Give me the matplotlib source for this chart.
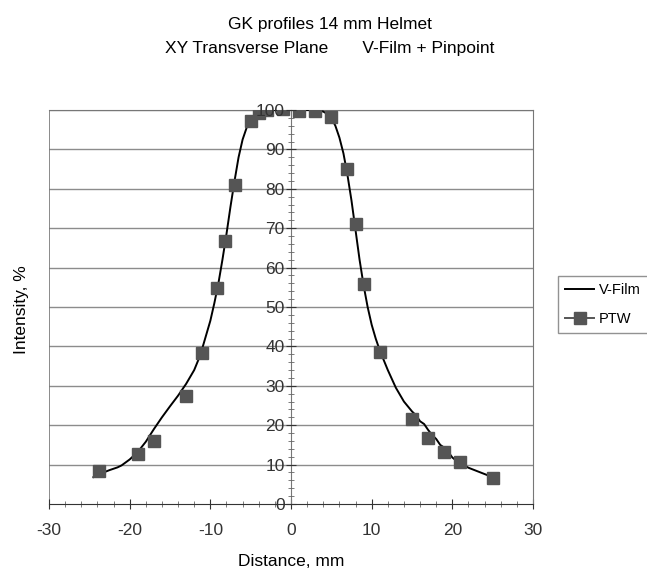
import numpy as np
import matplotlib
matplotlib.use("Agg")
import matplotlib.pyplot as plt
import matplotlib.ticker as mticker
from matplotlib.lines import Line2D

plt.rcParams['font.family'] = ['Liberation Sans Narrow', 'Liberation Sans', 'DejaVu Sans']
plt.rcParams['axes.unicode_minus'] = False

# V-Film profile
film_x = [-24.5, -23.5, -22.5, -21.5, -21, -20, -19, -18, -17, -16, -15, -14, -13, -12, -11.5, -11,
          -10.5, -10, -9.5, -9, -8.5, -8, -7.5, -7, -6.5, -6, -5.5, -5, -4.5, -4, -3, -2, -1, 0,
          1, 2, 3, 4, 4.5, 5, 5.5, 6, 6.5, 7, 7.5, 8, 8.5, 9, 9.5, 10, 10.5, 11, 12, 13, 14, 15,
          15.5, 16, 16.5, 17, 17.5, 18, 18.5, 19, 19.5, 20, 20.5, 21, 22, 23, 24, 25]
film_y = [6.8, 7.8, 8.6, 9.3, 9.8, 11.3, 13.2, 15.8, 19.0, 22.0, 24.8, 27.5, 30.5, 34.0, 36.5, 39.5,
          43.0, 46.5, 51.0, 56.0, 62.0, 68.5, 75.5, 82.0, 88.0, 92.5, 95.5, 97.3, 98.5, 99.2, 99.8, 100, 100, 100,
          100, 100, 100, 99.6, 99.0, 98.0, 96.0, 93.0, 89.0, 83.5, 77.0, 69.5, 62.0, 55.5, 50.0, 45.5, 42.0, 39.0,
          34.0, 29.5, 26.0, 23.5, 22.5, 21.0, 20.3, 18.8, 17.5, 16.5, 15.0, 14.3, 13.2, 11.8, 11.0, 10.3,
          9.2, 8.4, 7.6, 6.8]

# PTW pinpoint chamber
ptw_x = [-23.8, -19, -17, -13, -11, -9.2, -8.2, -7, -5, -4, -3, -1, 1, 3, 5, 7, 8, 9, 11, 15, 17, 19, 21, 25]
ptw_y = [8.5, 12.8, 16.0, 27.5, 38.3, 54.8, 66.7, 81.0, 97.3, 99.2, 100, 100.2, 99.7, 99.7, 98.3, 85.0,
         71.0, 55.8, 38.5, 21.5, 16.7, 13.1, 10.7, 6.6]

fig = plt.figure(figsize=(6.47, 5.71), dpi=100)
ax = fig.add_axes([49 / 647, 1 - 504 / 571, 484 / 647, 394 / 571])

ax.set_xlim(-30, 30)
ax.set_ylim(0, 100)

for v in range(10, 101, 10):
    ax.axhline(v, color='#8c8c8c', lw=1.0, zorder=1)

ax.plot(film_x, film_y, color='black', lw=1.4, zorder=3)
ax.plot(ptw_x, ptw_y, ls='none', marker='s', ms=8, color='#555555', zorder=4)

# frame
ax.spines['left'].set_position(('data', 0))
ax.spines['left'].set_color('#777777')
ax.axvline(-30, color='#777777', lw=1.2, zorder=1)
for s in ['top', 'right']:
    ax.spines[s].set_color('#777777')
ax.spines['bottom'].set_color('#333333')

ax.xaxis.set_major_locator(mticker.MultipleLocator(10))
ax.xaxis.set_minor_locator(mticker.MultipleLocator(2))
ax.yaxis.set_major_locator(mticker.MultipleLocator(10))
ax.yaxis.set_minor_locator(mticker.MultipleLocator(2))
ax.tick_params(axis='both', which='major', direction='inout', length=7, labelsize=12.5, colors='#333333')
ax.tick_params(axis='both', which='minor', direction='inout', length=4, color='#666666')
ax.tick_params(axis='x', pad=10)
ax.tick_params(axis='y', pad=1)
ax.yaxis.set_zorder(6)

ax.set_xlabel('Distance, mm', fontsize=12.5, labelpad=12)
fig.text(22 / 647, 1 - 310 / 571, 'Intensity, %', rotation=90, fontsize=12.5, ha='center', va='center')

fig.text(330 / 647, 1 - 24 / 571, 'GK profiles 14 mm Helmet', fontsize=12.5, ha='center', va='center')
fig.text(330 / 647, 1 - 49 / 571, 'XY Transverse Plane       V-Film + Pinpoint', fontsize=12.5,
         ha='center', va='center')

handles = [Line2D([], [], color='black', lw=1.4),
           Line2D([], [], color='#555555', lw=1.4, marker='s', ms=8)]
leg = fig.legend(handles, ['V-Film', 'PTW'], loc='upper left', bbox_to_anchor=(558 / 647, 1 - 276 / 571),
                 fontsize=10.5, frameon=True, fancybox=False, edgecolor='#777777', handlelength=2.0,
                 borderpad=0.5, borderaxespad=0, labelspacing=1.0, handletextpad=0.3)
leg.get_frame().set_linewidth(1.0)

fig.savefig('out.png', dpi=100)
